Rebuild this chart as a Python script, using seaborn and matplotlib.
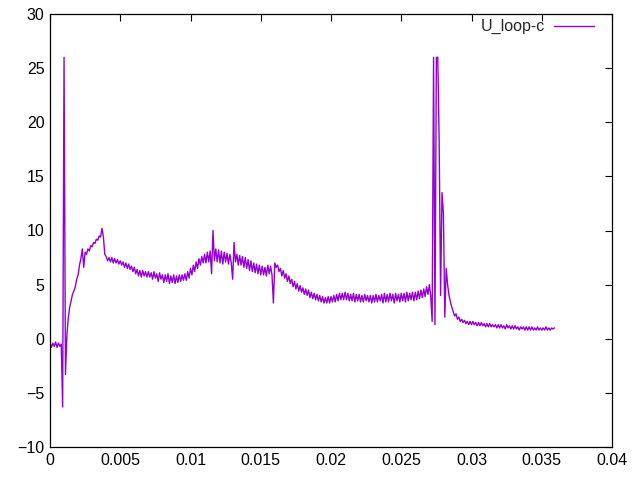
import numpy as np
import pandas as pd
import matplotlib
matplotlib.use("Agg")
import matplotlib.pyplot as plt
from matplotlib.ticker import FuncFormatter
import seaborn as sns

sample_step = 0.0001
u_loop_c = [
    -0.3, -0.8, -0.4, -0.7, -0.3, -0.8, -0.4, -0.7, -0.5, -6.3,
    26.0, -3.3, 0.3, 1.9, 2.9, 3.5, 4.1, 4.4, 4.8, 5.5,
    5.9, 6.8, 7.4, 8.3, 6.6, 8.0, 7.8, 8.3, 8.1, 8.6,
    8.5, 8.9, 8.8, 9.2, 9.1, 9.5, 9.4, 10.2, 9.4, 7.8,
    7.6, 7.2, 7.5, 7.1, 7.5, 7.0, 7.4, 7.0, 7.3, 6.9,
    7.2, 6.8, 7.1, 6.6, 7.0, 6.5, 6.9, 6.4, 6.7, 6.2,
    6.6, 6.0, 6.4, 5.8, 6.3, 5.7, 6.3, 5.8, 6.2, 5.7,
    6.2, 5.7, 6.1, 5.5, 6.2, 5.6, 6.0, 5.3, 6.1, 5.5,
    5.9, 5.2, 5.9, 5.3, 6.0, 5.1, 5.8, 5.2, 5.9, 5.1,
    5.8, 5.2, 5.9, 5.3, 5.9, 5.4, 6.0, 5.4, 6.2, 5.6,
    6.5, 5.9, 6.8, 6.2, 7.1, 6.5, 7.4, 6.8, 7.6, 7.0,
    7.8, 7.0, 8.0, 7.1, 8.1, 6.0, 10.0, 7.2, 8.3, 7.1,
    8.2, 7.0, 8.1, 6.9, 8.0, 7.1, 7.9, 6.9, 7.8, 7.0,
    5.5, 8.9, 7.1, 7.8, 6.8, 7.7, 6.8, 7.6, 6.6, 7.5,
    6.5, 7.3, 6.3, 7.2, 6.2, 7.0, 6.1, 6.9, 6.0, 6.8,
    5.9, 6.7, 5.9, 6.6, 5.8, 6.8, 6.0, 6.7, 5.9, 3.3,
    7.0, 6.6, 6.8, 6.2, 6.5, 5.8, 6.3, 5.6, 6.0, 5.3,
    5.8, 5.1, 5.5, 4.8, 5.3, 4.6, 5.1, 4.4, 4.9, 4.3,
    4.7, 4.1, 4.6, 4.0, 4.5, 3.8, 4.3, 3.7, 4.2, 3.6,
    4.1, 3.5, 4.0, 3.4, 3.9, 3.3, 3.8, 3.3, 3.9, 3.3,
    3.9, 3.4, 4.0, 3.4, 4.1, 3.5, 4.2, 3.6, 4.2, 3.6,
    4.3, 3.6, 4.2, 3.5, 4.1, 3.5, 4.2, 3.4, 4.1, 3.5,
    4.1, 3.4, 4.0, 3.4, 4.1, 3.5, 4.0, 3.4, 4.0, 3.3,
    4.0, 3.4, 4.1, 3.4, 4.0, 3.5, 4.1, 3.3, 4.2, 3.4,
    4.1, 3.4, 4.2, 3.5, 4.1, 3.3, 4.2, 3.5, 4.1, 3.4,
    4.2, 3.5, 4.2, 3.4, 4.3, 3.5, 4.2, 3.6, 4.3, 3.5,
    4.3, 3.6, 4.4, 3.7, 4.5, 3.8, 4.6, 3.9, 4.8, 4.1,
    5.0, 3.9, 1.6, 26.0, 1.3, 26.0, 26.0, 18.0, 4.0, 13.5,
    11.6, 2.0, 6.5, 5.0, 4.0, 3.4, 2.9, 2.5, 2.1, 2.3,
    1.8, 2.0, 1.6, 1.8, 1.5, 1.7, 1.4, 1.6, 1.3, 1.6,
    1.3, 1.6, 1.3, 1.5, 1.2, 1.5, 1.2, 1.5, 1.2, 1.4,
    1.1, 1.4, 1.1, 1.4, 1.1, 1.3, 1.1, 1.3, 1.0, 1.3,
    1.0, 1.3, 1.0, 1.2, 0.9, 1.3, 1.0, 1.2, 0.9, 1.2,
    0.9, 1.2, 0.9, 1.1, 0.8, 1.1, 0.9, 1.1, 0.8, 1.1,
    0.8, 1.1, 0.8, 1.1, 0.8, 1.0, 0.8, 1.1, 0.8, 1.0,
    0.8, 1.0, 0.8, 1.1, 0.8, 1.0, 0.8, 1.0, 0.9, 1.0,
]
x_ticks = [0, 0.005, 0.01, 0.015, 0.02, 0.025, 0.03, 0.035, 0.04]
y_ticks = [-10, -5, 0, 5, 10, 15, 20, 25, 30]

data = pd.DataFrame({"t": np.arange(len(u_loop_c)) * sample_step, "U_loop-c": u_loop_c})

sns.set_style("white")
plt.rcParams["font.family"] = ["Liberation Sans Narrow", "Liberation Sans", "DejaVu Sans"]

fig = plt.figure(figsize=(6.4, 4.8), dpi=100)
ax = fig.add_axes([50 / 640, 1 - 447 / 480, 562 / 640, 433 / 480])

sns.lineplot(data=data, x="t", y="U_loop-c", ax=ax, color="#9400d3", linewidth=1,
             estimator=None, sort=False, label="U_loop-c")

ax.set_xlim(0, 0.04)
ax.set_ylim(-10, 30)
ax.set_xticks(x_ticks)
ax.set_yticks(y_ticks)
ax.xaxis.set_major_formatter(FuncFormatter(lambda v, p: "%g" % round(v, 4)))
ax.set_xlabel("")
ax.set_ylabel("")
for s in ax.spines.values():
    s.set_color("black")
    s.set_linewidth(0.9)
ax.tick_params(direction="in", length=5, width=0.8, top=True, right=True,
               labelsize=11.5, colors="black", pad=4)

ax.legend(loc="upper right", bbox_to_anchor=(0.994, 1.021), frameon=False, fontsize=11.5,
          markerfirst=False, handlelength=2.5, handletextpad=0.6)

fig.savefig("out.png", dpi=100)
